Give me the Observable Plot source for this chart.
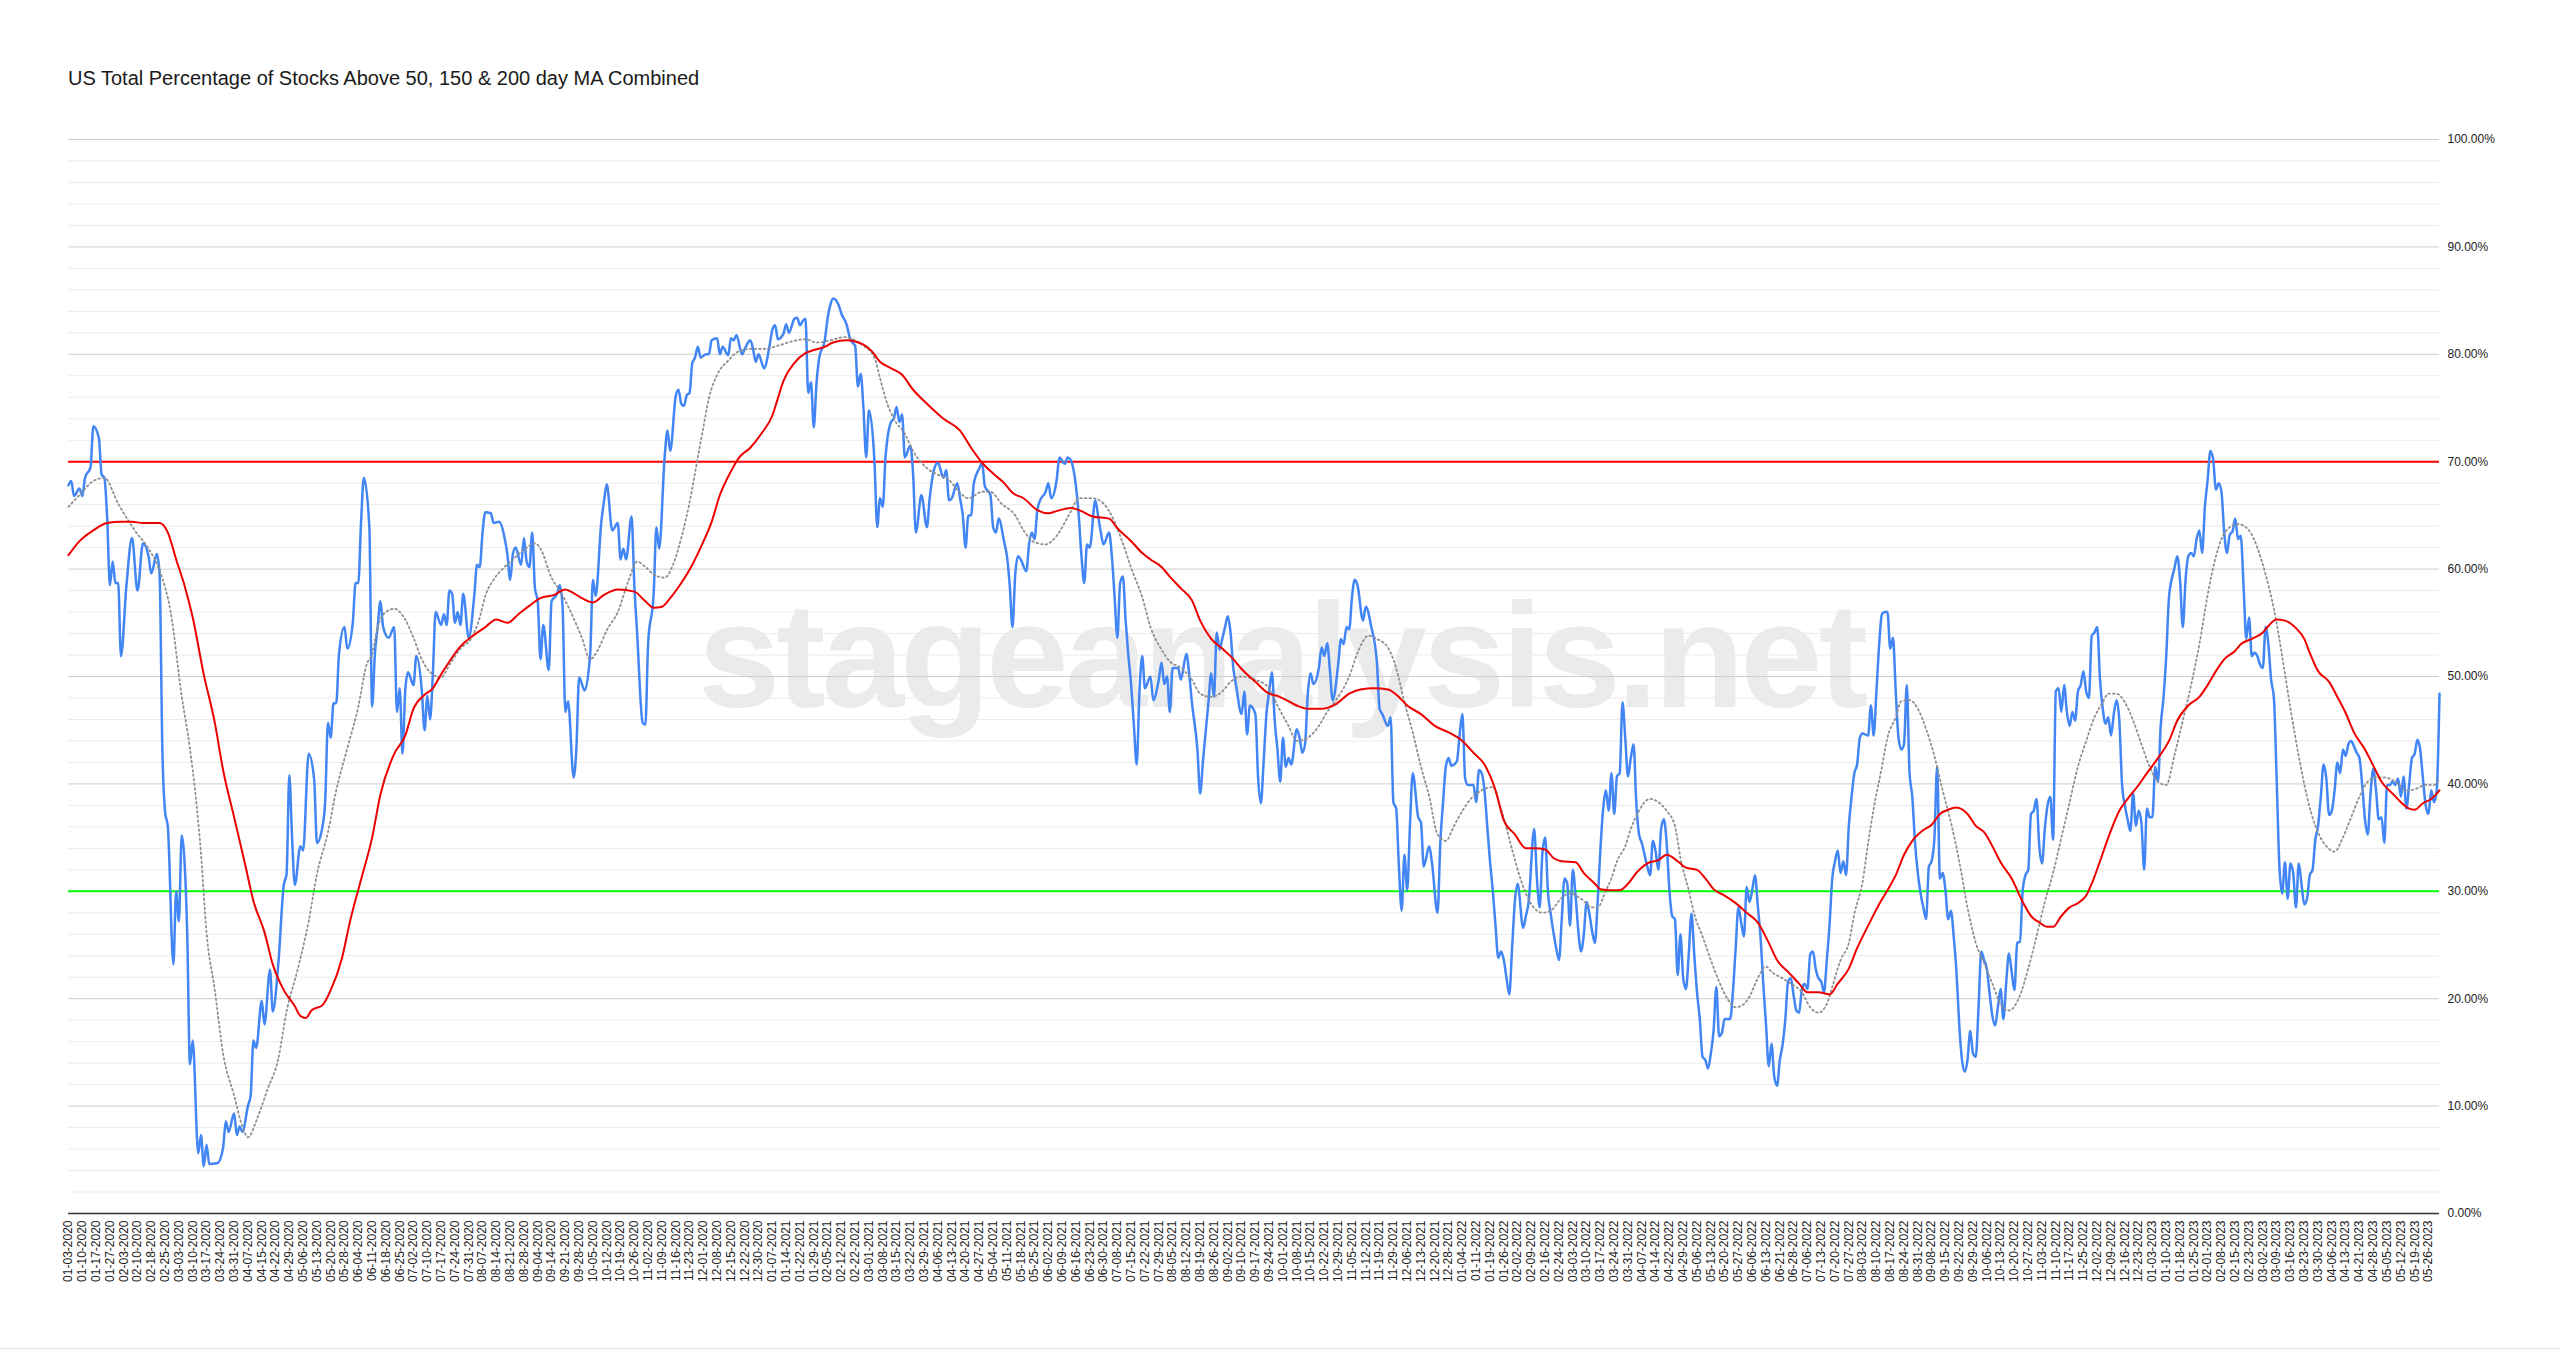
<!DOCTYPE html>
<html><head><meta charset="utf-8">
<script src="https://cdn.jsdelivr.net/npm/d3@7"></script>
<script src="https://cdn.jsdelivr.net/npm/@observablehq/plot@0.6"></script>
<style>
html,body{margin:0;padding:0;background:#fff;width:2560px;height:1350px;overflow:hidden;font-family:"Liberation Sans",Arial,sans-serif;}
#title{position:absolute;left:68px;top:68px;font-size:20px;line-height:20px;color:#1a1a1a;white-space:nowrap;}
#chart{position:absolute;left:0;top:100px;}
#edge{position:absolute;left:0;top:1348px;width:2560px;height:1px;background:#e3e3e3;}
</style></head><body>
<div id="title">US Total Percentage of Stocks Above 50, 150 &amp; 200 day MA Combined</div>
<div id="chart"></div>
<div id="edge"></div>
<script>
// x = trading-day index from 01-03-2020; one tick label every 5 trading days
const tickLabels = ["01-03-2020","01-10-2020","01-17-2020","01-27-2020","02-03-2020","02-10-2020","02-18-2020","02-25-2020","03-03-2020","03-10-2020","03-17-2020","03-24-2020","03-31-2020","04-07-2020","04-15-2020","04-22-2020","04-29-2020","05-06-2020","05-13-2020","05-20-2020","05-28-2020","06-04-2020","06-11-2020","06-18-2020","06-25-2020","07-02-2020","07-10-2020","07-17-2020","07-24-2020","07-31-2020","08-07-2020","08-14-2020","08-21-2020","08-28-2020","09-04-2020","09-14-2020","09-21-2020","09-28-2020","10-05-2020","10-12-2020","10-19-2020","10-26-2020","11-02-2020","11-09-2020","11-16-2020","11-23-2020","12-01-2020","12-08-2020","12-15-2020","12-22-2020","12-30-2020",
"01-07-2021","01-14-2021","01-22-2021","01-29-2021","02-05-2021","02-12-2021","02-22-2021","03-01-2021","03-08-2021","03-15-2021","03-22-2021","03-29-2021","04-06-2021","04-13-2021","04-20-2021","04-27-2021","05-04-2021","05-11-2021","05-18-2021","05-25-2021","06-02-2021","06-09-2021","06-16-2021","06-23-2021","06-30-2021","07-08-2021","07-15-2021","07-22-2021","07-29-2021","08-05-2021","08-12-2021","08-19-2021","08-26-2021","09-02-2021","09-10-2021","09-17-2021","09-24-2021","10-01-2021","10-08-2021","10-15-2021","10-22-2021","10-29-2021","11-05-2021","11-12-2021","11-19-2021","11-29-2021","12-06-2021","12-13-2021","12-20-2021","12-28-2021",
"01-04-2022","01-11-2022","01-19-2022","01-26-2022","02-02-2022","02-09-2022","02-16-2022","02-24-2022","03-03-2022","03-10-2022","03-17-2022","03-24-2022","03-31-2022","04-07-2022","04-14-2022","04-22-2022","04-29-2022","05-06-2022","05-13-2022","05-20-2022","05-27-2022","06-06-2022","06-13-2022","06-21-2022","06-28-2022","07-06-2022","07-13-2022","07-20-2022","07-27-2022","08-03-2022","08-10-2022","08-17-2022","08-24-2022","08-31-2022","09-08-2022","09-15-2022","09-22-2022","09-29-2022","10-06-2022","10-13-2022","10-20-2022","10-27-2022","11-03-2022","11-10-2022","11-17-2022","11-25-2022","12-02-2022","12-09-2022","12-16-2022","12-23-2022",
"01-03-2023","01-10-2023","01-18-2023","01-25-2023","02-01-2023","02-08-2023","02-15-2023","02-23-2023","03-02-2023","03-09-2023","03-16-2023","03-23-2023","03-30-2023","04-06-2023","04-13-2023","04-21-2023","04-28-2023","05-05-2023","05-12-2023","05-19-2023","05-26-2023"];

// [trading day, % of stocks] - daily value (blue)
const daily = [[0,67.8],[1,68.2],[2,66.8],[4,67.5],[5,66.8],[6,68.5],[8,69.5],[9,73.3],[11,72.2],[12,68.8],[13,68.5],[14,64.8],[15,58.5],[16,60.7],[17,58.7],[18,58.7],[19,51.9],[21,58.5],[23,62.9],[25,58.0],[27,62.4],[29,61.2],[30,59.6],[32,61.4],[33,59.5],[34,43.3],[35,37.4],[36,36.0],[38,23.2],[39,30.0],[40,27.2],[41,35.2],[43,26.2],[44,13.9],[45,16.1],[47,5.6],[48,7.3],[49,4.4],[50,6.4],[51,4.6],[54,4.7],[56,6.1],[57,8.6],[58,7.6],[60,9.3],[61,7.3],[62,8.1],[63,7.6],[65,10.0],[66,11.0],[67,16.1],[68,15.4],[70,19.8],[71,17.6],[73,22.7],[74,18.8],[76,23.2],[78,30.6],[79,31.6],[80,40.8],[81,35.0],[82,30.6],[84,34.2],[85,33.8],[87,42.8],[89,40.4],[90,34.5],[92,36.0],[93,38.4],[94,45.7],[95,44.3],[96,47.5],[97,47.5],[98,52.1],[100,54.6],[101,52.6],[103,55.0],[104,58.7],[105,58.7],[106,64.4],[107,68.5],[109,63.9],[110,47.2],[111,52.1],[112,54.6],[113,57.0],[114,54.6],[116,53.6],[118,54.6],[119,46.7],[120,48.9],[121,42.8],[122,48.7],[123,50.4],[125,49.2],[126,51.9],[128,48.7],[129,45.0],[130,48.2],[131,46.0],[132,50.2],[133,56.0],[135,54.8],[136,55.8],[137,54.8],[138,58.0],[139,57.7],[140,55.0],[141,56.0],[142,54.8],[143,57.7],[145,53.6],[147,57.5],[148,60.4],[149,60.2],[150,63.4],[151,65.3],[153,65.2],[154,64.3],[156,64.4],[158,62.9],[159,61.4],[160,59.0],[161,61.4],[162,62.0],[164,60.4],[165,62.9],[166,60.7],[167,60.2],[168,63.4],[169,58.2],[170,57.0],[171,51.6],[172,54.8],[174,50.6],[175,57.0],[177,57.7],[178,58.5],[179,56.5],[180,46.7],[181,47.7],[183,40.6],[184,43.3],[185,49.9],[187,48.7],[189,52.1],[190,59.0],[191,57.5],[193,64.3],[194,66.3],[195,67.9],[197,63.6],[199,64.3],[200,60.9],[201,61.9],[202,60.9],[204,64.9],[205,58.5],[206,54.1],[208,45.7],[209,45.5],[210,53.1],[212,57.7],[213,63.9],[214,61.9],[216,70.5],[217,72.9],[218,71.0],[220,76.1],[221,76.7],[222,75.4],[223,75.2],[224,76.2],[225,76.4],[226,79.2],[227,79.7],[228,80.7],[229,79.7],[231,80.0],[232,80.0],[233,81.3],[235,81.5],[236,80.0],[237,80.7],[239,79.9],[240,81.5],[241,81.3],[242,81.8],[244,80.0],[245,80.5],[247,81.3],[248,80.5],[249,79.3],[250,80.0],[252,78.7],[254,80.8],[255,82.3],[256,82.7],[257,81.4],[259,81.9],[260,82.8],[261,82.0],[263,83.3],[264,83.4],[265,82.7],[266,83.1],[267,83.3],[268,76.4],[269,77.4],[270,73.2],[271,77.3],[272,79.7],[274,81.3],[275,83.3],[276,84.6],[277,85.2],[279,84.6],[280,83.8],[282,82.7],[283,81.6],[284,81.1],[285,80.8],[286,77.0],[287,78.2],[288,75.0],[289,70.4],[290,74.8],[292,70.0],[293,63.9],[294,66.6],[295,65.8],[296,70.4],[298,73.7],[299,74.0],[300,75.1],[301,73.7],[302,74.4],[303,70.4],[305,71.5],[306,68.8],[307,63.4],[309,66.9],[311,63.9],[312,66.6],[314,69.6],[315,69.9],[317,68.5],[318,69.2],[319,66.4],[320,66.6],[322,68.0],[323,66.6],[324,65.0],[325,62.0],[326,65.0],[327,65.0],[328,68.0],[330,69.4],[331,69.9],[332,67.7],[334,66.9],[335,63.9],[336,63.4],[337,64.7],[339,62.5],[340,61.2],[341,58.5],[342,54.6],[343,59.5],[344,61.2],[345,60.9],[347,59.8],[348,62.3],[349,63.4],[350,62.8],[351,65.5],[352,66.4],[354,67.2],[355,68.0],[356,66.6],[358,68.3],[359,70.4],[361,69.8],[362,70.4],[363,70.2],[365,67.7],[366,65.0],[367,61.2],[368,58.7],[369,62.3],[370,62.0],[372,66.4],[373,65.0],[374,63.4],[375,62.3],[377,63.4],[378,61.2],[379,57.4],[380,53.6],[381,58.7],[382,59.3],[383,55.2],[384,51.9],[385,49.2],[386,45.4],[387,41.8],[388,48.6],[389,51.9],[390,48.9],[392,50.0],[393,47.8],[395,49.7],[396,51.3],[397,49.3],[398,50.0],[399,46.7],[400,50.8],[402,50.8],[403,49.7],[405,52.1],[406,50.3],[407,47.6],[409,43.2],[410,39.1],[411,42.1],[413,47.6],[414,50.3],[415,48.1],[416,54.1],[417,52.5],[418,53.5],[419,54.6],[420,55.6],[421,54.1],[422,50.8],[423,49.2],[425,46.5],[426,48.6],[427,44.6],[428,47.3],[430,46.5],[431,40.5],[432,38.2],[433,42.1],[434,46.5],[435,48.6],[436,50.4],[437,45.9],[438,43.2],[439,40.2],[440,44.3],[441,41.6],[442,42.4],[443,41.8],[445,45.1],[446,44.3],[447,42.9],[448,43.7],[449,48.4],[450,50.3],[451,49.3],[453,50.8],[454,52.7],[455,51.9],[456,53.1],[457,50.6],[458,47.8],[460,51.1],[461,53.5],[462,53.0],[463,54.6],[464,54.4],[465,57.4],[466,59.0],[467,58.5],[469,55.2],[470,56.5],[472,54.6],[474,51.4],[475,47.0],[476,46.5],[478,45.4],[479,46.2],[480,38.3],[481,37.7],[482,32.3],[483,28.2],[484,33.4],[485,30.1],[486,36.1],[487,41.0],[489,36.9],[490,36.4],[491,32.3],[493,34.2],[494,32.6],[496,28.0],[497,34.5],[498,38.3],[499,41.6],[500,42.4],[501,41.7],[503,42.1],[504,44.6],[505,46.5],[506,40.5],[507,39.9],[509,39.9],[510,38.3],[511,41.3],[512,41.0],[513,39.4],[514,36.1],[515,32.8],[516,30.1],[517,26.8],[518,23.8],[519,24.4],[520,23.6],[521,21.9],[522,20.4],[523,24.7],[524,29.0],[525,30.7],[527,26.6],[528,27.7],[529,29.0],[531,35.8],[532,31.2],[533,28.5],[534,33.6],[535,35.0],[536,29.9],[537,27.9],[539,24.7],[540,23.6],[541,27.4],[542,31.2],[543,30.7],[544,26.8],[545,32.0],[546,29.6],[547,26.3],[548,24.4],[549,26.0],[550,29.0],[551,27.9],[552,26.3],[553,25.2],[554,29.0],[555,33.9],[556,37.7],[557,39.4],[558,37.5],[559,41.0],[560,37.2],[561,40.7],[562,41.0],[563,47.6],[564,44.3],[565,40.7],[566,42.4],[567,43.7],[568,38.3],[569,35.3],[570,34.5],[572,32.3],[573,31.5],[574,34.7],[575,33.7],[576,32.0],[577,35.8],[578,36.7],[579,34.5],[580,30.1],[581,27.7],[582,27.4],[583,22.2],[584,26.0],[585,21.9],[586,20.9],[587,24.1],[588,27.9],[589,24.1],[590,20.6],[591,18.1],[592,14.6],[593,14.3],[594,13.5],[595,14.9],[596,17.0],[597,21.1],[598,16.5],[599,16.8],[600,18.1],[602,18.1],[603,20.6],[604,24.7],[605,28.5],[606,27.1],[607,25.8],[608,30.4],[609,29.0],[610,30.1],[611,31.5],[612,28.7],[613,25.8],[614,21.4],[615,17.6],[616,13.7],[617,15.8],[618,12.7],[619,11.9],[620,14.3],[621,15.7],[622,18.1],[623,21.6],[624,21.9],[625,20.3],[626,18.9],[627,18.7],[628,20.9],[629,21.4],[630,20.9],[631,24.1],[632,24.4],[633,22.8],[634,21.9],[635,21.6],[636,20.6],[637,23.5],[638,26.8],[639,31.2],[640,32.8],[641,33.8],[642,31.7],[643,32.8],[644,31.5],[645,36.1],[646,38.8],[647,41.0],[648,41.8],[649,44.3],[650,44.7],[652,44.5],[653,47.3],[654,44.5],[655,48.6],[656,53.0],[657,55.8],[658,56.0],[659,56.0],[660,52.6],[661,53.6],[662,48.6],[663,44.3],[664,43.2],[665,43.7],[666,49.2],[667,41.0],[668,38.8],[669,34.5],[670,31.7],[671,29.8],[672,28.5],[673,27.4],[674,32.3],[675,32.8],[676,34.9],[677,41.6],[678,31.2],[679,31.7],[680,30.1],[681,27.4],[682,28.2],[683,25.8],[684,22.5],[685,17.6],[686,14.3],[687,13.2],[688,14.3],[689,17.0],[690,14.9],[691,14.6],[692,19.2],[693,24.4],[694,23.6],[695,22.8],[696,20.5],[697,18.4],[698,17.5],[699,19.2],[700,20.9],[701,18.1],[702,21.4],[703,24.2],[704,22.5],[705,20.8],[706,25.2],[707,25.3],[708,30.1],[709,31.5],[710,32.0],[711,37.2],[712,37.5],[713,38.6],[714,34.2],[715,32.6],[716,35.8],[717,38.0],[718,38.8],[719,34.8],[720,48.6],[721,48.9],[722,46.7],[723,49.2],[724,46.7],[725,45.4],[726,46.7],[727,45.9],[728,48.6],[729,49.2],[730,50.5],[731,48.6],[732,48.0],[733,53.8],[734,54.1],[735,54.6],[736,49.7],[737,47.0],[738,45.6],[739,46.2],[740,44.5],[741,46.5],[742,47.8],[743,45.9],[744,39.9],[745,38.0],[746,36.7],[747,35.6],[748,39.1],[749,36.1],[750,37.5],[751,36.4],[752,32.0],[753,37.7],[754,36.9],[755,36.9],[756,41.6],[757,40.2],[758,45.4],[759,48.0],[760,51.9],[761,57.4],[763,60.1],[764,61.2],[765,59.0],[766,54.6],[767,59.0],[768,61.2],[769,61.5],[770,61.2],[771,62.8],[772,63.6],[773,61.5],[774,65.8],[775,68.3],[776,71.0],[777,70.2],[778,67.4],[779,68.0],[780,67.2],[781,63.4],[782,61.5],[783,63.2],[784,63.5],[785,64.7],[786,62.8],[787,63.1],[788,58.5],[789,53.5],[790,55.5],[791,51.9],[792,52.2],[793,51.9],[794,51.1],[795,50.8],[796,54.6],[797,53.0],[798,49.7],[799,48.0],[800,40.5],[801,32.3],[802,29.8],[803,32.7],[804,29.3],[805,32.6],[806,31.7],[807,28.5],[808,32.6],[809,30.7],[810,28.8],[811,29.3],[812,31.5],[813,32.0],[814,34.8],[815,36.1],[816,38.8],[817,41.8],[818,40.5],[819,37.1],[820,37.5],[821,39.4],[822,42.0],[823,41.0],[824,43.2],[825,42.6],[826,43.7],[827,44.0],[828,43.5],[829,42.9],[830,42.4],[831,39.9],[832,36.7],[833,35.3],[834,39.1],[835,41.4],[836,39.4],[837,36.7],[838,36.9],[839,34.5],[840,39.9],[841,39.9],[842,40.2],[843,39.9],[844,40.5],[845,38.8],[846,40.7],[847,37.7],[848,39.9],[849,42.4],[850,42.8],[851,44.1],[852,43.2],[853,40.5],[854,38.0],[855,37.2],[856,39.4],[857,38.3],[858,39.4],[859,48.4]];

// short moving average (grey dotted)
const shortMA = [[0,65.8],[4,66.9],[9,68.2],[13,68.5],[18,66.1],[24,63.6],[29,61.9],[33,59.9],[37,56.0],[41,48.2],[44,43.3],[48,33.5],[50,26.2],[53,20.8],[56,14.9],[60,11.0],[63,8.1],[65,7.1],[68,8.6],[72,11.5],[76,14.4],[79,18.8],[83,22.7],[87,27.2],[90,31.6],[94,35.5],[97,39.4],[101,43.3],[105,47.2],[108,51.1],[110,52.1],[112,54.6],[115,56.0],[118,56.3],[122,55.3],[125,53.6],[128,51.6],[131,50.4],[135,49.9],[138,51.1],[142,52.6],[146,53.6],[149,55.5],[151,57.5],[154,59.0],[158,60.2],[161,60.9],[165,61.8],[169,62.4],[171,61.9],[175,59.2],[178,58.0],[182,56.0],[186,53.6],[189,51.6],[192,52.6],[195,54.3],[199,56.0],[203,59.0],[206,60.7],[209,60.2],[212,59.5],[216,59.2],[219,60.4],[222,62.9],[225,66.2],[228,70.4],[230,73.2],[232,75.9],[235,78.1],[239,79.4],[243,80.3],[247,80.5],[252,80.5],[257,80.8],[262,81.2],[267,81.4],[271,81.1],[276,81.3],[281,81.6],[285,81.3],[288,80.8],[292,79.7],[294,77.8],[296,75.9],[299,74.0],[303,72.6],[306,71.0],[311,69.4],[315,68.8],[319,68.3],[322,67.4],[326,66.6],[331,67.2],[334,67.2],[338,66.1],[343,65.0],[346,63.6],[350,62.5],[354,62.3],[358,63.1],[363,65.3],[366,66.6],[371,66.6],[375,66.1],[379,64.4],[382,62.4],[385,60.1],[389,57.4],[392,54.6],[396,52.5],[399,51.4],[403,50.8],[407,49.7],[410,48.4],[414,48.1],[418,48.6],[421,49.5],[425,50.0],[430,49.7],[435,48.9],[438,47.3],[442,45.4],[445,44.0],[449,44.3],[453,45.4],[456,46.7],[460,48.1],[464,50.0],[467,52.2],[471,53.8],[474,53.5],[478,52.7],[481,50.8],[484,47.6],[487,44.8],[490,41.6],[493,38.8],[496,35.3],[499,34.7],[502,36.1],[505,37.5],[508,38.6],[512,39.4],[516,39.7],[519,37.7],[523,33.9],[526,31.2],[530,28.8],[534,28.0],[537,28.2],[541,29.4],[544,29.8],[548,29.3],[552,28.5],[554,28.5],[557,30.1],[559,31.2],[561,32.8],[564,34.2],[566,35.8],[569,37.5],[571,38.3],[573,38.6],[576,38.3],[579,37.5],[582,36.1],[584,33.1],[587,30.1],[589,27.9],[592,25.8],[595,23.6],[598,21.6],[601,20.0],[604,19.2],[607,19.5],[609,20.2],[612,21.9],[615,23.0],[617,22.5],[621,21.9],[624,21.4],[628,20.6],[631,19.2],[634,18.7],[637,19.5],[639,21.1],[642,23.6],[645,25.2],[647,27.9],[650,30.9],[652,34.5],[654,37.7],[657,41.6],[659,44.3],[662,46.2],[664,47.7],[667,47.8],[670,47.0],[673,45.1],[676,42.6],[679,39.4],[682,36.4],[685,32.8],[688,28.5],[691,25.2],[694,23.3],[697,21.4],[700,19.5],[703,18.9],[707,20.3],[710,22.8],[713,25.8],[716,29.0],[719,31.7],[722,35.0],[725,38.3],[728,41.6],[731,44.0],[734,46.2],[737,47.6],[739,48.4],[742,48.4],[745,47.6],[748,45.9],[751,43.7],[754,41.6],[757,40.2],[760,39.9],[763,42.7],[766,45.9],[769,49.2],[772,53.0],[775,57.6],[778,61.2],[780,62.8],[783,63.9],[786,64.2],[790,63.6],[793,62.0],[796,59.5],[799,56.3],[802,51.9],[805,47.0],[808,42.6],[811,38.8],[814,36.1],[818,34.2],[821,33.7],[824,35.0],[827,36.9],[830,38.8],[833,40.2],[836,40.6],[839,40.6],[843,40.2],[847,39.4],[850,39.5],[854,39.9],[857,39.9],[859,40.5]];

// long moving average (red)
const longMA = [[0,61.3],[4,62.6],[9,63.6],[14,64.3],[19,64.4],[23,64.4],[27,64.3],[33,64.3],[36,63.4],[39,60.9],[42,58.5],[45,55.5],[49,50.2],[53,45.7],[56,41.3],[60,36.9],[64,32.5],[67,29.1],[71,26.2],[74,23.2],[78,20.8],[82,19.3],[84,18.4],[86,18.2],[88,18.9],[92,19.4],[95,20.8],[99,23.7],[102,27.2],[106,31.1],[110,35.0],[113,39.0],[118,42.8],[122,44.5],[125,47.0],[129,48.3],[132,48.9],[135,50.2],[138,51.4],[142,52.8],[146,53.7],[151,54.6],[155,55.3],[159,55.0],[163,55.8],[167,56.6],[171,57.3],[176,57.6],[180,58.1],[182,57.9],[186,57.3],[190,56.9],[194,57.6],[199,58.1],[205,57.9],[209,57.0],[212,56.4],[215,56.5],[218,57.3],[222,58.7],[226,60.4],[229,62.0],[233,64.4],[236,66.9],[240,69.1],[243,70.4],[247,71.3],[251,72.6],[255,74.3],[257,75.9],[259,77.5],[263,79.2],[267,80.1],[270,80.4],[274,80.7],[277,81.1],[282,81.3],[285,81.2],[288,80.9],[291,80.3],[294,79.3],[298,78.7],[302,78.1],[306,76.7],[311,75.4],[317,74.0],[323,72.9],[327,71.3],[331,69.9],[335,68.9],[339,68.0],[342,67.1],[346,66.6],[351,65.5],[355,65.2],[358,65.4],[363,65.7],[367,65.4],[371,64.9],[377,64.7],[380,63.8],[385,62.6],[389,61.5],[392,60.9],[396,60.2],[399,59.3],[403,58.2],[407,57.1],[410,55.2],[414,53.5],[418,52.6],[421,51.9],[425,50.7],[430,49.5],[435,48.4],[438,48.2],[442,47.7],[445,47.3],[449,47.0],[454,47.0],[459,47.4],[464,48.4],[468,48.8],[473,48.9],[478,48.8],[482,48.1],[485,47.3],[490,46.5],[495,45.4],[500,44.8],[505,44.0],[509,42.9],[513,41.8],[517,39.4],[520,36.6],[524,35.3],[528,34.0],[531,34.0],[535,33.9],[538,33.1],[541,32.8],[546,32.7],[549,31.7],[553,30.7],[555,30.2],[559,30.1],[562,30.1],[565,30.7],[568,31.7],[572,32.6],[576,32.9],[579,33.4],[583,32.8],[586,32.2],[590,32.0],[593,31.2],[596,30.2],[600,29.6],[604,28.9],[608,28.0],[612,27.1],[616,25.2],[619,23.6],[623,22.5],[627,21.4],[630,20.6],[634,20.6],[638,20.4],[641,21.4],[645,22.8],[648,24.7],[652,26.8],[656,28.8],[659,30.1],[662,31.5],[665,33.4],[668,34.7],[672,35.7],[675,36.2],[678,37.2],[681,37.6],[684,37.8],[688,37.2],[691,36.1],[694,35.5],[698,33.7],[700,32.7],[704,31.2],[708,29.0],[711,27.7],[714,27.1],[717,26.7],[719,26.7],[722,27.7],[725,28.5],[728,28.9],[731,29.6],[733,30.7],[736,32.8],[739,35.0],[743,37.5],[746,38.6],[750,39.9],[753,41.0],[757,42.4],[761,44.0],[764,45.9],[768,47.3],[772,48.1],[775,49.2],[778,50.5],[781,51.6],[785,52.4],[787,53.0],[791,53.5],[795,54.1],[797,54.7],[800,55.3],[803,55.2],[807,54.5],[810,53.5],[812,52.2],[815,50.5],[819,49.5],[822,48.1],[825,46.6],[828,44.8],[832,43.2],[835,41.7],[838,40.2],[842,39.1],[845,38.3],[848,37.7],[850,37.6],[853,38.2],[856,38.6],[858,39.1],[859,39.4]];

const overbought = 70;
const oversold = 30;
const yTickValues = [0,10,20,30,40,50,60,70,80,90,100];
const watermark = "stageanalysis.net";

const lastDay = daily[daily.length - 1][0];
const tickDays = tickLabels.map((_, k) => k * 5);
const minorGrid = d3.range(0, 101, 2).filter(v => v % 10 !== 0);

const chart = Plot.plot({
  width: 2560,
  height: 1250,
  marginLeft: 68,
  marginRight: 121,
  marginTop: 39,
  marginBottom: 137,
  style: {fontFamily: "'Liberation Sans', Arial, sans-serif", fontSize: "12px", color: "#222", background: "transparent", overflow: "visible"},
  x: {domain: [0, lastDay], ticks: tickDays, tickFormat: d => tickLabels[Math.round(d / 5)], tickRotate: -90, tickSize: 0, tickPadding: 7, label: null},
  y: {domain: [0, 100], axis: "right", ticks: yTickValues, tickFormat: d => d.toFixed(2) + "%", tickSize: 0, tickPadding: 8, label: null},
  marks: [
    Plot.text([watermark], {text: d => d, frameAnchor: "middle", dx: 27, dy: -17, fontSize: 148, fontWeight: "bold", fill: "#ebebeb"}),
    Plot.ruleY(minorGrid, {stroke: "#ebebeb", strokeWidth: 1}),
    Plot.ruleY(yTickValues, {stroke: "#cccccc", strokeWidth: 1}),
    Plot.ruleY([0], {stroke: "#333333", strokeWidth: 1.5}),
    Plot.ruleY([overbought], {stroke: "#ff0000", strokeWidth: 2}),
    Plot.ruleY([oversold], {stroke: "#00ff00", strokeWidth: 2}),
    Plot.line(daily, {x: d => d[0], y: d => d[1], stroke: "#4285f4", strokeWidth: 2.5, curve: "monotone-x"}),
    Plot.line(shortMA, {x: d => d[0], y: d => d[1], stroke: "#8f8f8f", strokeWidth: 1.8, strokeDasharray: "1.6,3", curve: "monotone-x"}),
    Plot.line(longMA, {x: d => d[0], y: d => d[1], stroke: "#ee0000", strokeWidth: 2, curve: "monotone-x"})
  ]
});
chart.querySelectorAll("text").forEach(t => { if (t.textContent === watermark) t.style.letterSpacing = "-4px"; });
document.getElementById("chart").appendChild(chart);
</script>
</body></html>
